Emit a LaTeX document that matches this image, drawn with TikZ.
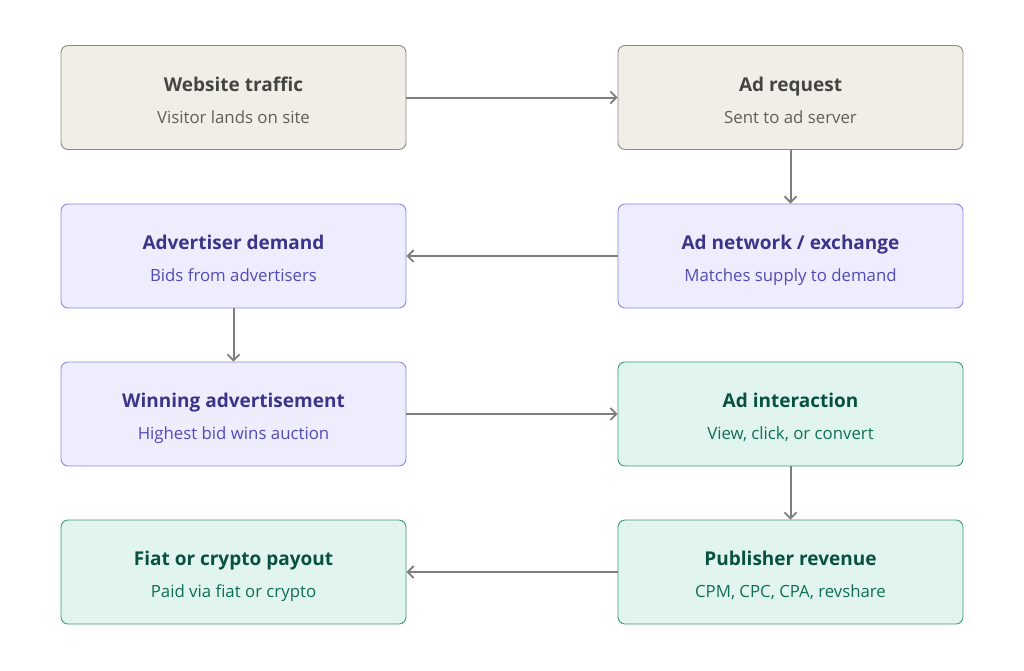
\documentclass[tikz,border=0pt]{standalone}
\usepackage{fontspec}
\setmainfont{Open Sans}
\usetikzlibrary{arrows.meta}
\definecolor{tanfill}{HTML}{F1EEE8}
\definecolor{tanline}{HTML}{8C8A84}
\definecolor{tantitle}{HTML}{444441}
\definecolor{tansub}{HTML}{5F5E5A}
\definecolor{purfill}{HTML}{EEEDFE}
\definecolor{purline}{HTML}{8F86DE}
\definecolor{purtitle}{HTML}{3C3489}
\definecolor{pursub}{HTML}{534AB7}
\definecolor{grnfill}{HTML}{E1F5EE}
\definecolor{grnline}{HTML}{3D9A74}
\definecolor{grntitle}{HTML}{085041}
\definecolor{grnsub}{HTML}{0F6E56}
\definecolor{flowgray}{HTML}{7F7E7A}

\begin{document}
\begin{tikzpicture}[x=1pt, y=-1pt,
    box/.style={rectangle, rounded corners=7pt, line width=0.9pt, minimum width=345pt,
                minimum height=104pt, align=center, inner sep=0pt},
    tanbox/.style={box, draw=tanline, fill=tanfill},
    purbox/.style={box, draw=purline, fill=purfill},
    grnbox/.style={box, draw=grnline, fill=grnfill},
    ttl/.style={anchor=base, font=\fontsize{19}{23}\selectfont\bfseries},
    sub/.style={anchor=base, font=\fontsize{16.8}{20}\selectfont},
    flow/.style={-{Straight Barb[length=6pt, width=12pt, line width=1.8pt]}, line width=2pt, draw=flowgray}]
    \useasboundingbox (0,0) rectangle (1024,670);

    % Row 1
    \node[tanbox] (traffic) at (233.5,97.5) {};
    \node[ttl, text=tantitle] (trafficT) at (233.5,91) {Website traffic};
    \node[sub, text=tansub] (trafficS) at (233.5,123) {Visitor lands on site};

    \node[tanbox] (request) at (790.5,97.5) {};
    \node[ttl, text=tantitle] (requestT) at (790.5,91) {Ad request};
    \node[sub, text=tansub] (requestS) at (790.5,123) {Sent to ad server};

    % Row 2
    \node[purbox] (demand) at (233.5,256) {};
    \node[ttl, text=purtitle] (demandT) at (233.5,249.5) {Advertiser demand};
    \node[sub, text=pursub] (demandS) at (233.5,281.5) {Bids from advertisers};

    \node[purbox] (network) at (790.5,256) {};
    \node[ttl, text=purtitle] (networkT) at (790.5,249.5) {Ad network / exchange};
    \node[sub, text=pursub] (networkS) at (790.5,281.5) {Matches supply to demand};

    % Row 3
    \node[purbox] (winner) at (233.5,414) {};
    \node[ttl, text=purtitle] (winnerT) at (233.5,407.5) {Winning advertisement};
    \node[sub, text=pursub] (winnerS) at (233.5,439.5) {Highest bid wins auction};

    \node[grnbox] (interaction) at (790.5,414) {};
    \node[ttl, text=grntitle] (interactionT) at (790.5,407.5) {Ad interaction};
    \node[sub, text=grnsub] (interactionS) at (790.5,439.5) {View, click, or convert};

    % Row 4
    \node[grnbox] (payout) at (233.5,572) {};
    \node[ttl, text=grntitle] (payoutT) at (233.5,565.5) {Fiat or crypto payout};
    \node[sub, text=grnsub] (payoutS) at (233.5,597.5) {Paid via fiat or crypto};

    \node[grnbox] (revenue) at (790.5,572) {};
    \node[ttl, text=grntitle] (revenueT) at (790.5,565.5) {Publisher revenue};
    \node[sub, text=grnsub] (revenueS) at (790.5,597.5) {CPM, CPC, CPA, revshare};

    % Connectors
    \draw[flow] (traffic) -- (request);
    \draw[flow] (request) -- (network);
    \draw[flow] (network) -- (demand);
    \draw[flow] (demand) -- (winner);
    \draw[flow] (winner) -- (interaction);
    \draw[flow] (interaction) -- (revenue);
    \draw[flow] (revenue) -- (payout);
\end{tikzpicture}
\end{document}
